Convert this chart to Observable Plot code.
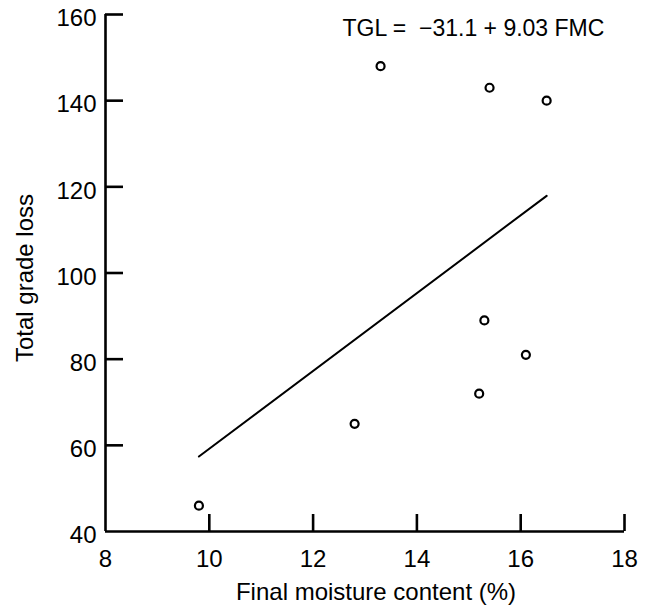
<!DOCTYPE html>
<html>
<head>
<meta charset="utf-8">
<script src="https://cdn.jsdelivr.net/npm/d3@7"></script>
<script src="https://cdn.jsdelivr.net/npm/@observablehq/plot@0.6"></script>
<style>
  html, body { margin: 0; padding: 0; background: #fff; }
</style>
</head>
<body>
<div id="chart"></div>
<script>
// Data
const fmc = [9.8, 12.8, 13.3, 15.2, 15.3, 15.4, 16.1, 16.5];
const tgl = [46, 65, 148, 72, 89, 143, 81, 140];
const fitX = [9.8, 16.5];
const fitY = [57.4, 117.9];
const xTicks = [10, 12, 14, 16, 18];
const xLabels = [8, 10, 12, 14, 16, 18];
const yTicks = [60, 80, 100, 120, 140, 160];
const yLabels = [40, 60, 80, 100, 120, 140, 160];
const equation = "TGL =  \u221231.1 + 9.03 FMC";
const xTitle = "Final moisture content (%)";
const yTitle = "Total grade loss";

const points = fmc.map((x, i) => ({x, y: tgl[i]}));
const fit = fitX.map((x, i) => ({x, y: fitY[i]}));

const chart = Plot.plot({
  width: 650,
  height: 608,
  marginLeft: 105,
  marginRight: 26,
  marginTop: 14,
  marginBottom: 77,
  style: {fontFamily: "'Liberation Sans', Arial, sans-serif", fontSize: "24px", color: "#000", background: "#fff"},
  x: {domain: [8, 18], axis: null},
  y: {domain: [40, 160], axis: null},
  marks: [
    Plot.ruleY([40], {stroke: "#000", strokeWidth: 2.6}),
    Plot.ruleX([8], {stroke: "#000", strokeWidth: 2.6}),
    Plot.ruleX(xTicks, {x: d => d, y1: 160, y2: 40, insetTop: 500, stroke: "#000", strokeWidth: 2.6}),
    Plot.ruleY(yTicks, {y: d => d, x1: 8, x2: 18, insetRight: 501, stroke: "#000", strokeWidth: 2.6}),
    Plot.text(xLabels, {x: d => d, y: 40, dy: 28, text: d => String(d), textAnchor: "middle", lineAnchor: "middle", fill: "#000", fontSize: 24}),
    Plot.text(yLabels, {x: 8, y: d => d, dx: -9, dy: 4, text: d => String(d), textAnchor: "end", lineAnchor: "middle", fill: "#000", fontSize: 24}),
    Plot.line(fit, {x: "x", y: "y", stroke: "#000", strokeWidth: 2}),
    Plot.dot(points, {x: "x", y: "y", r: 4, stroke: "#000", strokeWidth: 2.2, fill: "#fff"}),
    Plot.text([equation], {frameAnchor: "top-left", dx: 237, dy: 14, textAnchor: "start", lineAnchor: "middle", fill: "#000", fontSize: 23}),
    Plot.text([xTitle], {frameAnchor: "bottom", dx: 11, dy: 61, textAnchor: "middle", lineAnchor: "middle", fill: "#000", fontSize: 24}),
    Plot.text([yTitle], {frameAnchor: "left", dx: -80, dy: 5, rotate: -90, textAnchor: "middle", lineAnchor: "middle", fill: "#000", fontSize: 24})
  ]
});
document.getElementById("chart").appendChild(chart);
</script>
</body>
</html>
